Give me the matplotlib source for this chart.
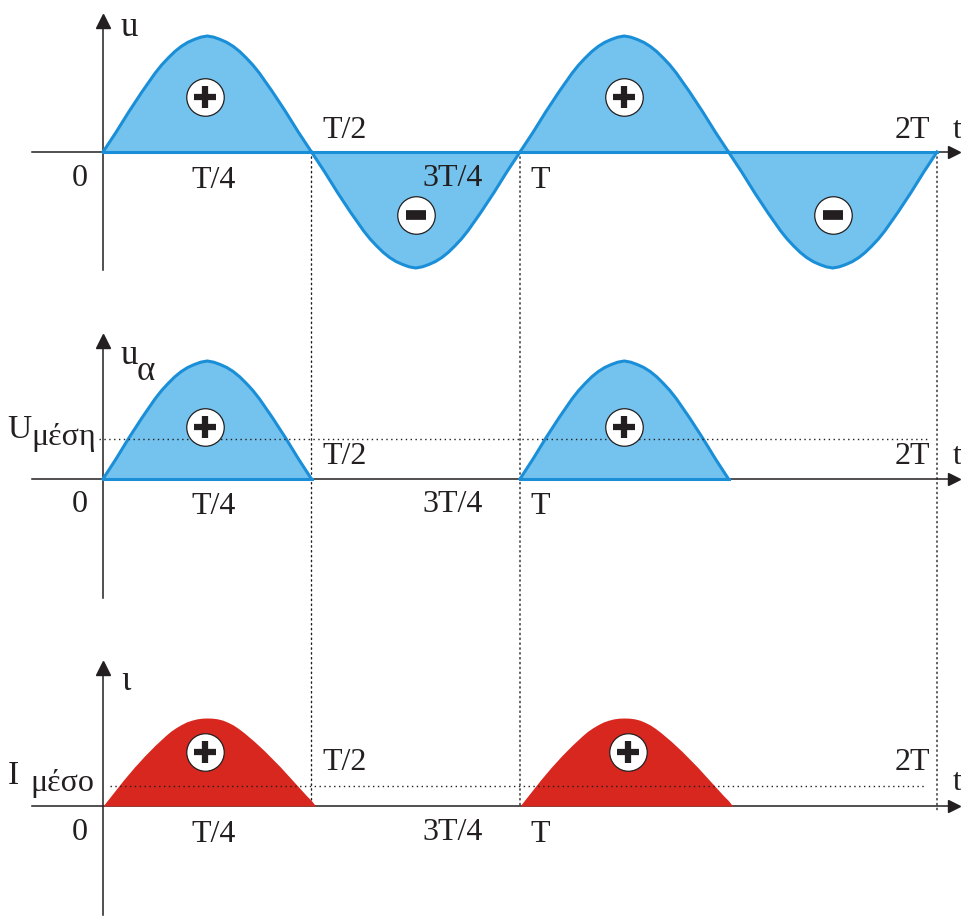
import numpy as np
import matplotlib
matplotlib.use('Agg')
import matplotlib.pyplot as plt
from matplotlib.patches import ConnectionPatch

plt.rcParams['font.family'] = ['Liberation Serif', 'DejaVu Serif']

# one half cycle of the supply voltage (t in units of T, u in units of Um)
half_t = np.linspace(0, 0.5, 33)
half_u = [0, 0.085, 0.17, 0.26, 0.35, 0.435, 0.52, 0.60, 0.68, 0.75, 0.81,
          0.865, 0.91, 0.945, 0.97, 0.99, 1.0,
          0.99, 0.97, 0.945, 0.91, 0.865, 0.81, 0.75, 0.68, 0.60, 0.52,
          0.435, 0.35, 0.26, 0.17, 0.085, 0]

# current pulse through the load (t in units of T, i in units of Im)
pulse_t = list(np.linspace(0, 0.5, 41)) + [0.51]
pulse_i = [0, 0.075, 0.15, 0.225, 0.30, 0.37, 0.44, 0.505, 0.57, 0.63, 0.69,
           0.745, 0.80, 0.85, 0.89, 0.925, 0.955, 0.975, 0.99, 0.998, 1.0,
           0.998, 0.99, 0.975, 0.95, 0.92, 0.88, 0.835, 0.785, 0.735, 0.68,
           0.625, 0.565, 0.505, 0.445, 0.38, 0.315, 0.25, 0.185, 0.12, 0.06,
           0]

u_mean = 0.34
i_mean = 0.23

tick_pos = [0, 0.25, 0.5, 0.75, 1, 2]
tick_txt = ['0', 'T/4', 'T/2', '3T/4', 'T', '2T']
# pixel offsets of each tick label from (t, 0)
tick_off = [(-23, -26), (6, -28), (33, 22), (37, -26), (20, -28), (-25, 22)]

blue_fill = '#74c2ee'
blue_line = '#1a8fd8'
red_fill = '#d7271f'
ink = '#231f20'

W, H = 962, 916
fig = plt.figure(figsize=(W / 100, H / 100), dpi=100)


def add_panel(top_px, bot_px, base_px, unit_px):
    ax = fig.add_axes([0, 1 - bot_px / H, 1, (bot_px - top_px) / H])
    ax.set_xlim(-103 / 417, 859 / 417)
    ax.set_ylim(-(bot_px - base_px) / unit_px, (base_px - top_px) / unit_px)
    ax.axis('off')
    return ax


def draw_axes(ax, ybot, ytop):
    ax.plot([-0.17, 2.04], [0, 0], color=ink, lw=1.1, zorder=1)
    ax.plot(2.04, 0, marker='>', ms=9, color=ink, zorder=5)
    ax.plot([0, 0], [ybot, ytop], color=ink, lw=1.1, zorder=1)
    ax.plot(0, ytop, marker='^', ms=10, color=ink, zorder=5)


def badge(ax, t, y, sign):
    ax.plot(t, y, marker='o', ms=27, mfc='white', mec=ink, mew=0.9, zorder=6)
    if sign == '+':
        ax.plot(t, y, marker='+', ms=16, mew=4.5, color=ink, zorder=7)
    else:
        ax.plot(t, y, marker='_', ms=15, mew=7, color=ink, zorder=7)


def tick_labels(ax, high_off=None):
    for p, s, (dx, dy) in zip(tick_pos, tick_txt, tick_off):
        if high_off is not None and s in ('T/2', '2T'):
            dy = high_off
        ax.annotate(s, (p, 0), xytext=(dx, dy), textcoords='offset pixels',
                    ha='center', va='center', fontsize=23, color=ink)
    ax.annotate('t', (2, 0), xytext=(20, 22 if high_off is None else 24),
                textcoords='offset pixels', ha='center', va='center',
                fontsize=23, color=ink)


# ---- panel 1: supply voltage u ----
ax1 = add_panel(0, 300, 152, 116)
draw_axes(ax1, -1.02, 1.13)
for k in range(4):
    sgn = 1 if k % 2 == 0 else -1
    tt = half_t + 0.5 * k
    uu = sgn * np.array(half_u)
    ax1.fill_between(tt, 0, uu, color=blue_fill, lw=0, zorder=2)
    ax1.plot(tt, uu, color=blue_line, lw=2.2, zorder=3)
ax1.plot([0, 2], [0, 0], color=blue_line, lw=2.2, zorder=3)
badge(ax1, 0.245, 0.47, '+')
badge(ax1, 1.25, 0.47, '+')
badge(ax1, 0.75, -0.54, '-')
badge(ax1, 1.75, -0.54, '-')
tick_labels(ax1)
ax1.annotate('u', (0, 0), xytext=(26, 125), textcoords='offset pixels',
             ha='center', va='center', fontsize=25, color=ink)

# ---- panel 2: load voltage u_a ----
ax2 = add_panel(320, 620, 479, 118)
draw_axes(ax2, -1.01, 1.17)
for k in (0, 2):
    tt = half_t + 0.5 * k
    ax2.fill_between(tt, 0, half_u, color=blue_fill, lw=0, zorder=2)
    ax2.plot(tt, half_u, color=blue_line, lw=2.2, zorder=3)
    ax2.plot([tt[0], tt[-1]], [0, 0], color=blue_line, lw=2.2, zorder=3)
ax2.plot([-0.01, 1.98], [u_mean, u_mean], color=ink, lw=1,
         ls=(0, (1, 2.5)), zorder=4)
badge(ax2, 0.245, 0.44, '+')
badge(ax2, 1.25, 0.44, '+')
tick_labels(ax2)
ax2.annotate('u', (0, 0), xytext=(26, 124), textcoords='offset pixels',
             ha='center', va='center', fontsize=25, color=ink)
ax2.annotate('α', (0, 0), xytext=(43, 108), textcoords='offset pixels',
             ha='center', va='center', fontsize=25, color=ink)
ax2.annotate('U', (0, 0), xytext=(-84, 49), textcoords='offset pixels',
             ha='center', va='center', fontsize=24, color=ink)
ax2.annotate('μέση', (0, 0), xytext=(-39, 41), textcoords='offset pixels',
             ha='center', va='center', fontsize=23, color=ink)

# ---- panel 3: current i ----
ax3 = add_panel(640, 916, 806, 88)
draw_axes(ax3, -1.24, 1.57)
for k in (0, 2):
    tt = np.array(pulse_t) + 0.5 * k
    ax3.fill_between(tt, 0, pulse_i, color=red_fill, lw=0, zorder=2)
ax3.plot([0.017, 1.97], [i_mean, i_mean], color=ink, lw=1,
         ls=(0, (1, 2.5)), zorder=4)
badge(ax3, 0.245, 0.61, '+')
badge(ax3, 1.26, 0.61, '+')
tick_labels(ax3, high_off=44)
ax3.annotate('ι', (0, 0), xytext=(23, 124), textcoords='offset pixels',
             ha='center', va='center', fontsize=25, color=ink)
ax3.annotate('I', (0, 0), xytext=(-90, 30), textcoords='offset pixels',
             ha='center', va='center', fontsize=24, color=ink)
ax3.annotate('μέσο', (0, 0), xytext=(-41, 22), textcoords='offset pixels',
             ha='center', va='center', fontsize=23, color=ink)

# dotted guides running through all three panels
for p, y_end in ((0.5, 0), (1, 0), (2, -0.05)):
    con = ConnectionPatch(xyA=(p, 0), coordsA='data', axesA=ax1,
                          xyB=(p, y_end), coordsB='data', axesB=ax3,
                          color=ink, lw=1, ls=(0, (1, 2.5)), zorder=0)
    fig.add_artist(con)

fig.savefig('out.png', dpi=100)
